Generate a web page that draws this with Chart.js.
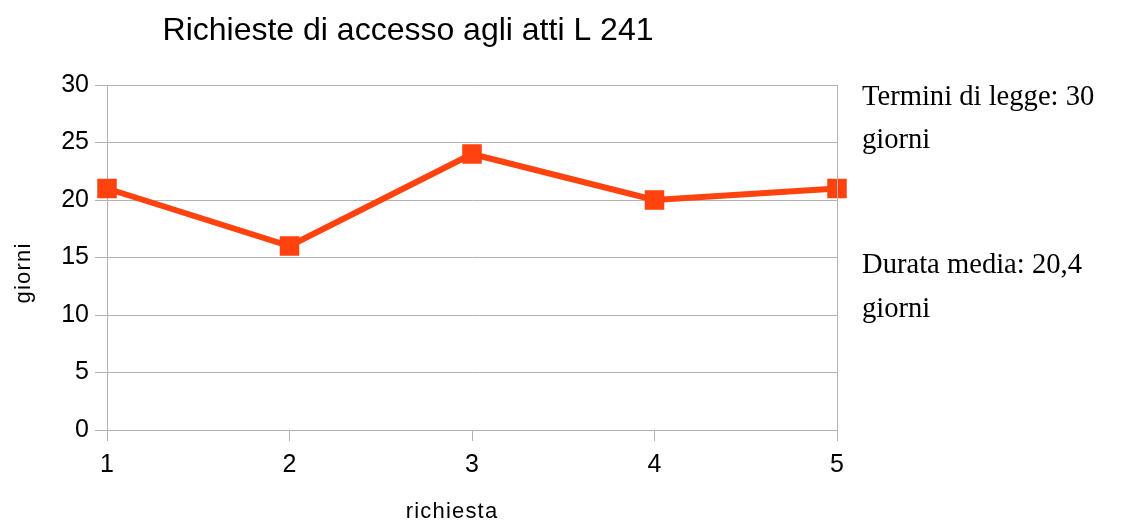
<!DOCTYPE html>
<html>
<head>
<meta charset="utf-8">
<script src="https://cdn.jsdelivr.net/npm/chart.js@4/dist/chart.umd.min.js"></script>
<style>
html,body{margin:0;padding:0;background:#fff;}
#wrap{width:1131px;height:522px;}
</style>
</head>
<body>
<div id="wrap"><canvas id="c" width="1131" height="522"></canvas></div>
<script>
const chartTitle = 'Richieste di accesso agli atti L 241';
const categories = ['1', '2', '3', '4', '5'];
const durations = [21, 16, 24, 20, 21];
const yMin = 0, yMax = 30, yStep = 5;
const xAxisTitle = 'richiesta';
const yAxisTitle = 'giorni';
const notes = [['Termini di legge: 30', 'giorni'], ['Durata media: 20,4', 'giorni']];

const gridColor = '#b3b3b3';
const lineColor = '#ff420e';

const textPlugin = {
  id: 'texts',
  afterDraw(chart) {
    const ctx = chart.ctx;
    const ca = chart.chartArea;
    ctx.save();
    // right border of plot area
    ctx.strokeStyle = gridColor;
    ctx.lineWidth = 1;
    ctx.beginPath();
    ctx.moveTo(Math.round(ca.right) + 0.5, ca.top);
    ctx.lineTo(Math.round(ca.right) + 0.5, ca.bottom);
    ctx.stroke();
    ctx.fillStyle = '#000';
    // title
    ctx.font = "32px 'Liberation Sans'";
    ctx.textAlign = 'center';
    ctx.textBaseline = 'alphabetic';
    ctx.fillText(chartTitle, 408, 40);
    // axis titles
    ctx.font = "22px 'Liberation Sans'";
    ctx.letterSpacing = '1.2px';
    ctx.fillText(xAxisTitle, 452, 518);
    ctx.save();
    ctx.translate(30, 273);
    ctx.rotate(-Math.PI / 2);
    ctx.fillText(yAxisTitle, 0, 0);
    ctx.restore();
    ctx.letterSpacing = '0px';
    // notes
    ctx.font = "28.6px 'Liberation Serif'";
    ctx.textAlign = 'left';
    const baselines = [[105, 148], [273, 317]];
    notes.forEach((n, i) => {
      n.forEach((line, j) => ctx.fillText(line, 862, baselines[i][j]));
    });
    ctx.restore();
  }
};

new Chart(document.getElementById('c'), {
  type: 'line',
  data: {
    labels: categories,
    datasets: [{
      data: durations,
      borderColor: lineColor,
      backgroundColor: lineColor,
      borderWidth: 6,
      pointStyle: 'rect',
      pointRadius: 13.8,
      pointHoverRadius: 13.8,
      pointBorderWidth: 0,
      pointBackgroundColor: lineColor,
      tension: 0,
      clip: false
    }]
  },
  options: {
    responsive: false,
    animation: false,
    devicePixelRatio: 1,
    layout: { padding: { left: 0, top: 85, right: 294, bottom: 0 } },
    plugins: { legend: { display: false }, title: { display: false }, tooltip: { enabled: false } },
    scales: {
      x: {
        type: 'category',
        offset: false,
        grid: { drawOnChartArea: false, color: gridColor, tickLength: 11 },
        border: { color: gridColor },
        ticks: { color: '#000', font: { family: 'Liberation Sans', size: 25 }, padding: 9, maxRotation: 0 },
        afterFit(s) { s.height = 92; }
      },
      y: {
        min: yMin, max: yMax,
        grid: { color: gridColor, tickLength: 12 },
        border: { color: gridColor },
        ticks: { stepSize: yStep, color: '#000', font: { family: 'Liberation Sans', size: 25 }, padding: 6 },
        afterFit(s) { s.width = 107; }
      }
    }
  },
  plugins: [textPlugin]
});
</script>
</body>
</html>
